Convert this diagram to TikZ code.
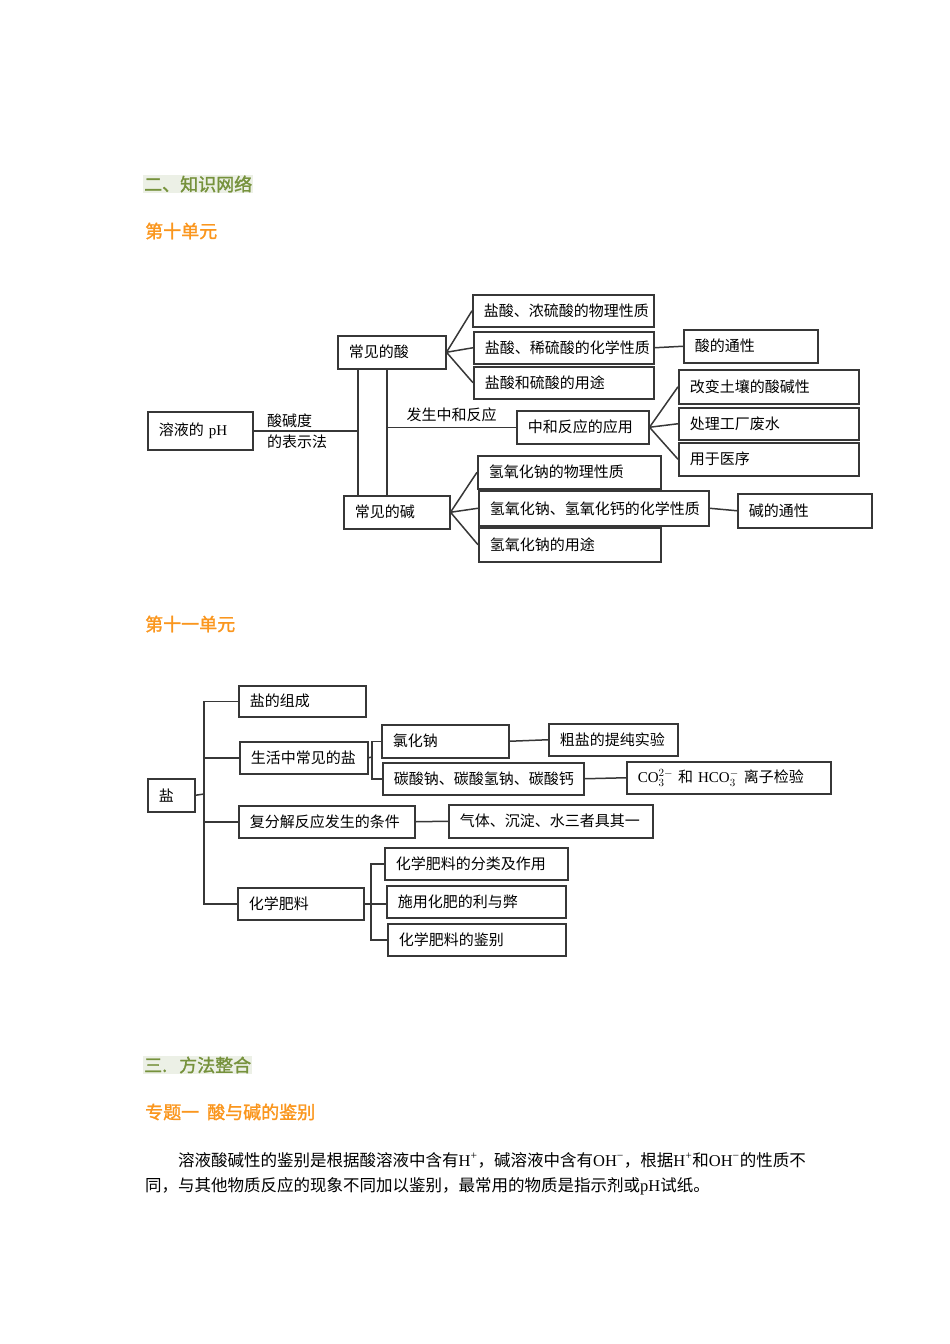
\documentclass[tikz,border=0pt]{standalone}
\usepackage{fontspec}
\setmainfont{Noto Sans CJK SC}
\newfontfamily\xiti{Liberation Serif}
\newfontfamily\cuti[FakeBold=1.5]{Noto Sans CJK SC}
\definecolor{lvse}{RGB}{118,146,60}
\definecolor{chengse}{RGB}{250,150,30}
\definecolor{dise}{RGB}{236,240,230}
\definecolor{bianse}{RGB}{55,55,55}

\begin{document}
\begin{tikzpicture}[x=1pt,y=-1pt,
kuang/.style={draw=bianse,line width=1.5pt,anchor=north west,align=left,
inner xsep=11pt,inner ysep=0pt,minimum height=33pt,
font=\fontsize{15}{21}\selectfont},
xian/.style={draw=bianse,line width=1.5pt},
biaoti/.style={anchor=west,inner sep=1pt,font=\cuti\fontsize{18}{20}\selectfont},
zhengwen/.style={anchor=west,inner sep=0pt,font=\fontsize{16.5}{20}\selectfont}]

\useasboundingbox
(0,0)
rectangle
(950,1344);

% Titres
\node[biaoti,text=lvse,fill=dise] (t1) at (143,184)
{二、知识网络};

\node[biaoti,text=chengse] (t2) at (144,231)
{第十单元};

% Unite 10
\node[kuang,text width=83pt,minimum height=38pt] (ph) at (147,411)
{溶液的 {\xiti pH}};

\node[kuang,text width=86pt] (suan) at (337,335)
{常见的酸};

\node[kuang,text width=84pt] (jian) at (343,495)
{常见的碱};

\node[kuang,text width=159pt,minimum height=32pt] (b1) at (472,294)
{盐酸、浓硫酸的物理性质};

\node[kuang,text width=158pt,minimum height=32pt] (b2) at (473,331)
{盐酸、稀硫酸的化学性质};

\node[kuang,text width=158pt,minimum height=32pt] (b3) at (473,366)
{盐酸和硫酸的用途};

\node[kuang,text width=112pt] (stx) at (683,329)
{酸的通性};

\node[kuang,text width=110pt] (zhonghe) at (516,410)
{中和反应的应用};

\node[kuang,text width=158pt,minimum height=34pt] (y1) at (678,369)
{改变土壤的酸碱性};

\node[kuang,text width=158pt,minimum height=32pt] (y2) at (678,407)
{处理工厂废水};

\node[kuang,text width=158pt] (y3) at (678,442)
{用于医序};

\node[kuang,text width=161pt] (c1) at (477,455)
{氢氧化钠的物理性质};

\node[kuang,text width=208pt,minimum height=35pt] (c2) at (478,490)
{氢氧化钠、氢氧化钙的化学性质};

\node[kuang,text width=160pt,minimum height=34pt] (c3) at (478,527)
{氢氧化钠的用途};

\node[kuang,text width=112pt,minimum height=34pt] (jtx) at (737,493)
{碱的通性};

\node[anchor=west,align=left,inner sep=0pt,font=\fontsize{15}{21}\selectfont] (biaoshi) at (267,431)
{酸碱度\\的表示法};

\coordinate (v1) at (358,0);
\coordinate (v2) at (387,0);

\draw[xian]
(ph.east)
--
(ph.east -| v1);

\draw[xian]
(suan.south -| v1)
--
(jian.north -| v1);

\draw[xian]
(suan.south -| v2)
--
(jian.north -| v2);

\draw[xian]
(zhonghe.west -| v2)
--
(zhonghe.west)
node[midway,above=1pt,font=\fontsize{15}{21}\selectfont] (fasheng) {发生中和反应};

\draw[xian] (suan.east) -- (b1.west);
\draw[xian] (suan.east) -- (b2.west);
\draw[xian] (suan.east) -- (b3.west);
\draw[xian] (b2.east) -- (stx.west);

\draw[xian] (zhonghe.east) -- (y1.west);
\draw[xian] (zhonghe.east) -- (y2.west);
\draw[xian] (zhonghe.east) -- (y3.west);

\draw[xian] (jian.east) -- (c1.west);
\draw[xian] (jian.east) -- (c2.west);
\draw[xian] (jian.east) -- (c3.west);
\draw[xian] (c2.east) -- (jtx.west);

% Unite 11
\node[biaoti,text=chengse] (t3) at (144,624)
{第十一单元};

\node[kuang,text width=25pt] (yan) at (147,778)
{盐};

\node[kuang,text width=105pt,minimum height=31pt] (z1) at (238,685)
{盐的组成};

\node[kuang,text width=106pt,minimum height=32pt] (z2) at (239,741)
{生活中常见的盐};

\node[kuang,text width=154pt,minimum height=32pt] (z3) at (238,805)
{复分解反应发生的条件};

\node[kuang,text width=104pt,minimum height=32pt] (z4) at (237,887)
{化学肥料};

\node[kuang,text width=105pt] (n1) at (381,724)
{氯化钠};

\node[kuang,text width=179pt,minimum height=32pt] (n2) at (382,762)
{碳酸钠、碳酸氢钠、碳酸钙};

\node[kuang,text width=107pt,minimum height=32pt] (n3) at (548,723)
{粗盐的提纯实验};

\node[kuang,text width=182pt,minimum height=32pt] (n4) at (626,761)
{{\xiti CO}$_3^{2-}$\ 和 {\xiti HCO}$_3^{-}$\ 离子检验};

\node[kuang,text width=182pt] (q) at (448,804)
{气体、沉淀、水三者具其一};

\node[kuang,text width=161pt,minimum height=32pt] (f1) at (384,847)
{化学肥料的分类及作用};

\node[kuang,text width=157pt,minimum height=32pt] (f2) at (386,885)
{施用化肥的利与弊};

\node[kuang,text width=156pt,minimum height=32pt] (f3) at (387,923)
{化学肥料的鉴别};

\coordinate (k0) at (204,794);
\coordinate (k1) at (372,757);
\coordinate (k2) at (371,903);

\draw[xian] (yan.east) -- (k0);

\draw[xian]
(z1.west)
--
(z1.west -| k0)
--
(z4.west -| k0)
--
(z4.west);

\draw[xian] (z2.west) -- (z2.west -| k0);
\draw[xian] (z3.west) -- (z3.west -| k0);

\draw[xian] (z2.east) -- (k1);
\draw[xian] (n1.west) -| (k1) |- (n2.west);
\draw[xian] (n1.east) -- (n3.west);
\draw[xian] (n2.east) -- (n4.west);
\draw[xian] (z3.east) -- (q.west);

\draw[xian] (z4.east) -- (z4.east -| f2.west);
\draw[xian] (f1.west) -| (k2) |- (f3.west);

% Methode
\node[biaoti,text=lvse,fill=dise] (t4) at (143,1065)
{三.\hspace{12pt}方法整合};

\node[biaoti,text=chengse] (t5) at (144,1112)
{专题一\hspace{8pt}酸与碱的鉴别};

\node[zhengwen] (p1) at (178,1160)
{溶液酸碱性的鉴别是根据酸溶液中含有{\xiti H\textsuperscript{+}}，碱溶液中含有{\xiti OH\textsuperscript{−}}，根据{\xiti H\textsuperscript{+}}和{\xiti OH\textsuperscript{−}}的性质不};

\node[zhengwen] (p2) at (145,1186)
{同，与其他物质反应的现象不同加以鉴别，最常用的物质是指示剂或{\xiti pH}试纸。};

\end{tikzpicture}
\end{document}
